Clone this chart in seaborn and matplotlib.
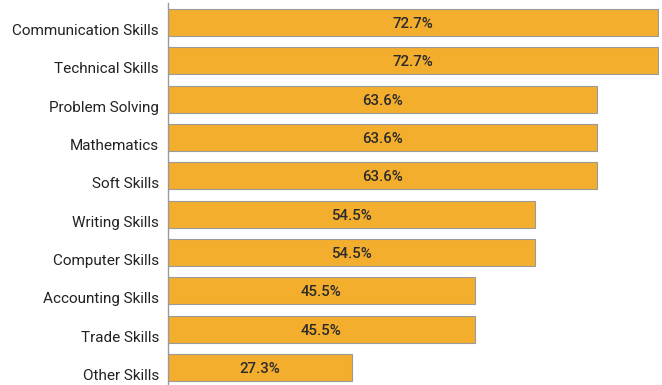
import matplotlib
matplotlib.use("Agg")
import matplotlib.pyplot as plt
import matplotlib.transforms as mtransforms
import seaborn as sns
import pandas as pd

skills = [
    "Communication Skills", "Technical Skills", "Problem Solving", "Mathematics",
    "Soft Skills", "Writing Skills", "Computer Skills", "Accounting Skills",
    "Trade Skills", "Other Skills",
]
shares = [72.7, 72.7, 63.6, 63.6, 63.6, 54.5, 54.5, 45.5, 45.5, 27.3]

df = pd.DataFrame({"skill": skills, "share": shares})

sns.set_theme(style="white")
plt.rcParams["font.family"] = ["Roboto", "DejaVu Sans"]

W, H = 662, 385
fig = plt.figure(figsize=(W / 100, H / 100), dpi=100)
ax = fig.add_axes([168 / W, 0, (659 - 168) / W, 382 / H])

sns.barplot(data=df, x="share", y="skill", orient="h", color="#F4AE2E",
            saturation=1, width=0.705, edgecolor="#9a9a9a", linewidth=0.8, ax=ax)

ax.set_xlim(0, 72.85)
ax.set_ylim(9.46, -0.51)

for i, v in enumerate(shares):
    ax.text(v / 2, i + 0.04, f"{v}%", ha="center", va="center", fontsize=10.8,
            fontweight="medium", color="#2b2b2b")

ax.set_xlabel("")
ax.set_ylabel("")
ax.set_xticks([])
ax.tick_params(axis="y", length=0, pad=6.5, labelsize=11, labelcolor="#222222")

# category labels sit slightly below the bar centres
shift = mtransforms.ScaledTranslation(0, -5 / 72, fig.dpi_scale_trans)
for lbl in ax.get_yticklabels():
    lbl.set_transform(lbl.get_transform() + shift)

for side in ("top", "right", "bottom"):
    ax.spines[side].set_visible(False)
ax.spines["left"].set_color("#9a9a9a")
ax.spines["left"].set_linewidth(1.0)

fig.savefig("out.png", dpi=100)
